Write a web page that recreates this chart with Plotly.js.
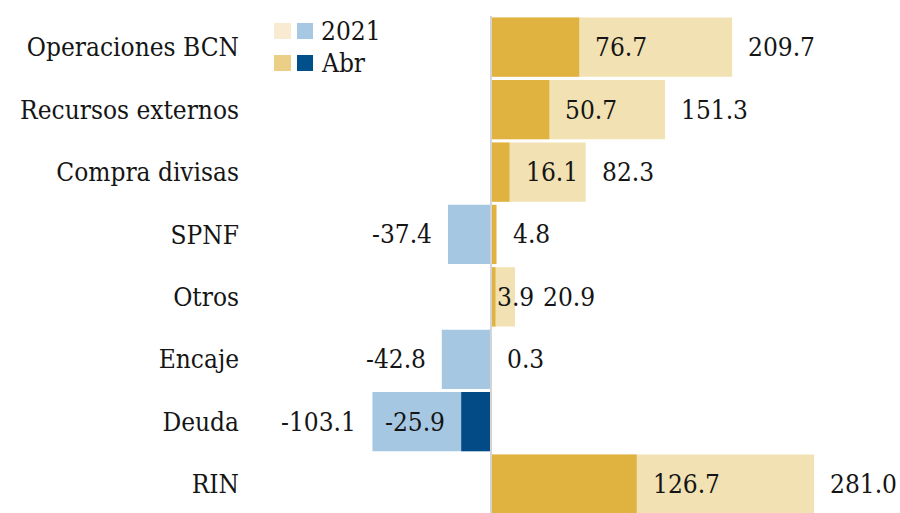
<!DOCTYPE html>
<html>
<head>
<meta charset="utf-8">
<script src="https://cdn.plot.ly/plotly-3.0.1.min.js"></script>
<style>html,body{margin:0;padding:0;background:#fff;}#chart{width:900px;height:513px;}</style>
</head>
<body>
<div id="chart"></div>
<script>
// ---- data ----
var categories = ["Operaciones BCN", "Recursos externos", "Compra divisas", "SPNF", "Otros", "Encaje", "Deuda", "RIN"];
var values2021 = [209.7, 151.3, 82.3, -37.4, 20.9, -42.8, -103.1, 281.0];
var valuesAbr  = [76.7, 50.7, 16.1, 4.8, 3.9, 0.3, -25.9, 126.7];
var seriesNames = ["2021", "Abr"];

// ---- style ----
var FONT = "DejaVu Serif Condensed, DejaVu Serif, serif";
var FS = 26;
var TXT = "#151515";
var col2021Pos = "#F2E1B2", col2021Neg = "#A6C7E1";
var colAbrPos = "#E0B340", colAbrNeg = "#024B87";

var W = 900, H = 513, ML = 245, MR = 0, MT = 16, MB = 0;
var zeroPx = 491, pxPerUnit = 1.15;
var xMin = -(zeroPx - ML) / pxPerUnit, xMax = (W - MR - zeroPx) / pxPerUnit;
var PAD = 14;

function fmt(v){ return v.toFixed(1); }

var ctx = document.createElement("canvas").getContext("2d");
ctx.font = FS + "px 'DejaVu Serif Condensed', 'DejaVu Serif', serif";
function textW(s){ return ctx.measureText(s).width; }

var traces = [
  {
    type: "bar", orientation: "h", name: seriesNames[0],
    y: categories, x: values2021,
    marker: {color: values2021.map(function(v){return v >= 0 ? col2021Pos : col2021Neg;})},
    hoverinfo: "none", showlegend: false
  },
  {
    type: "bar", orientation: "h", name: seriesNames[1],
    y: categories, x: valuesAbr,
    marker: {color: valuesAbr.map(function(v){return v >= 0 ? colAbrPos : colAbrNeg;})},
    hoverinfo: "none", showlegend: false
  }
];

var annotations = [];
categories.forEach(function(c, i){
  var a = valuesAbr[i], t = values2021[i];
  var sa = fmt(a), st = fmt(t);
  var shiftA = PAD, shiftT = PAD;
  if (a >= 0 && t >= 0) {
    var aBarEnd = zeroPx + a * pxPerUnit, tBarEnd = zeroPx + t * pxPerUnit;
    if (aBarEnd + PAD + textW(sa) > tBarEnd + PAD) {
      shiftA = 0;
      shiftT = (aBarEnd + 2 + textW(sa) + 6) - tBarEnd;
    }
  }
  annotations.push({
    x: t, y: c, xref: "x", yref: "y", text: st, showarrow: false,
    xanchor: t >= 0 ? "left" : "right", xshift: t >= 0 ? shiftT : -shiftT,
    yanchor: "middle", font: {family: FONT, size: FS, color: TXT}
  });
  annotations.push({
    x: a, y: c, xref: "x", yref: "y", text: sa, showarrow: false,
    xanchor: a >= 0 ? "left" : "right", xshift: a >= 0 ? shiftA : -shiftA,
    yanchor: "middle", font: {family: FONT, size: FS, color: TXT}
  });
});

var plotW = W - ML - MR, plotH = H - MT - MB;
function px2x(px){ return (px - ML) / plotW; }
function px2y(py){ return 1 - (py - MT) / plotH; }
var shapes = [];
var legendRows = [
  {name: seriesNames[0], c1: "#F8EBD1", c2: "#A6C8E3", top: 23},
  {name: seriesNames[1], c1: "#EBCF87", c2: "#00508C", top: 55}
];
legendRows.forEach(function(r){
  shapes.push({type: "rect", xref: "paper", yref: "paper", x0: px2x(274), x1: px2x(291), y0: px2y(r.top + 16), y1: px2y(r.top), fillcolor: r.c1, line: {width: 0}});
  shapes.push({type: "rect", xref: "paper", yref: "paper", x0: px2x(297), x1: px2x(313), y0: px2y(r.top + 16), y1: px2y(r.top), fillcolor: r.c2, line: {width: 0}});
  annotations.push({xref: "paper", yref: "paper", x: px2x(319), y: px2y(r.top + 8), text: r.name, showarrow: false, xanchor: "left", yanchor: "middle", font: {family: FONT, size: FS, color: TXT}});
});

var layout = {
  width: W, height: H,
  margin: {l: ML, r: MR, t: MT, b: MB, pad: 0},
  paper_bgcolor: "#ffffff", plot_bgcolor: "#ffffff",
  barmode: "overlay", bargap: 0.05,
  showlegend: false,
  xaxis: {range: [xMin, xMax], showticklabels: false, showgrid: false, ticks: "", zeroline: true, zerolinecolor: "#d4d4d4", zerolinewidth: 2, zerolinelayer: "above traces", fixedrange: true},
  yaxis: {type: "category", categoryorder: "array", categoryarray: categories, range: [7.463, -0.5], showgrid: false, zeroline: false, ticks: "", ticklabelstandoff: 5, tickfont: {family: FONT, size: FS, color: TXT}, fixedrange: true},
  annotations: annotations,
  shapes: shapes
};

Plotly.newPlot("chart", traces, layout, {staticPlot: true, displayModeBar: false});
</script>
</body>
</html>
